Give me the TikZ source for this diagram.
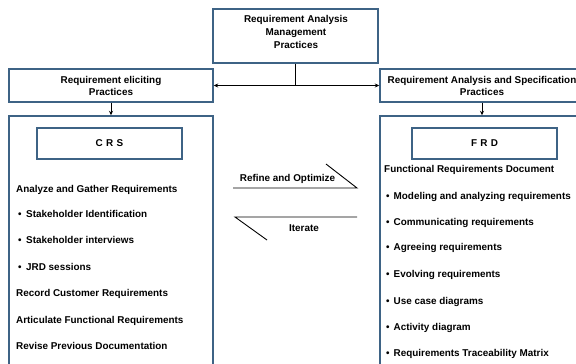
\documentclass[tikz,border=0pt]{standalone}
\usepackage{fontspec}
\setmainfont{Liberation Sans}
\usetikzlibrary{arrows.meta}
\definecolor{boxline}{HTML}{3E6385}
\begin{document}
\begin{tikzpicture}[x=1pt,y=-1pt,
  font=\fontsize{9.9}{12.5}\selectfont\bfseries,
  box/.style={draw=boxline,line width=1.4pt,fill=white,inner sep=0pt,align=center},
  item/.style={anchor=base west,inner sep=0pt},
  link/.style={draw=black,line width=0.8pt},
  tip/.style={-{Stealth[length=4.5pt,width=4pt]}}]
\useasboundingbox (0,0) rectangle (576,364);
\clip (0,0) rectangle (576,364);

% management practices
\node[box,minimum width=165pt,minimum height=54pt] (top) at (295.5,36) {};
\node[inner sep=0pt,align=center,font=\fontsize{9.9}{13}\selectfont\bfseries] (toptext) at (296,32)
  {Requirement Analysis\\Management\\Practices};

% section headers
\node[box,minimum width=204pt,minimum height=33pt] (lhead) at (111,85.5)
  {Requirement eliciting\\[-0.5pt]Practices};
\node[box,minimum width=204pt,minimum height=33pt] (rhead) at (482,85.5)
  {Requirement Analysis and Specification\\[-0.5pt]Practices};

% section bodies (open at the bottom)
\node[box,minimum width=204pt,minimum height=254pt] (lbody) at (111,243) {};
\node[box,minimum width=204pt,minimum height=254pt] (rbody) at (482,243) {};

\node[box,minimum width=145pt,minimum height=31pt] (crs) at (109.5,143.5) {C\,\,R\,\,S};
\node[box,minimum width=145pt,minimum height=31pt] (frd) at (484.5,143.5) {F\,\,R\,\,D};

% connectors
\coordinate (j) at (top.south |- lhead.east);
\draw[link] (top.south) -- (j);
\draw[link,tip] (j) -- (lhead.east);
\draw[link,tip] (j) -- (rhead.west);
\draw[link,tip] (lhead.south) -- (lbody.north);
\draw[link,tip] (rhead.south) -- (rbody.north);

% left list
\newcommand{\bl}[1]{\makebox[8pt][l]{\textbullet}#1}
\node[item] (l1) at (16,192.5) {Analyze and Gather Requirements};
\node[item] (l2) at (18,217.5) {\bl{Stakeholder Identification}};
\node[item] (l3) at (18,243.5) {\bl{Stakeholder interviews}};
\node[item] (l4) at (18,270.5) {\bl{JRD sessions}};
\node[item] (l5) at (16,296.5) {Record Customer Requirements};
\node[item] (l6) at (16,323.5) {Articulate Functional Requirements};
\node[item] (l7) at (16,349.5) {Revise Previous Documentation};

% right list
\newcommand{\br}[1]{\makebox[7.5pt][l]{\textbullet}#1}
\node[item] (r0) at (384,172.5) {Functional Requirements Document};
\node[item] (r1) at (386,199.5) {\br{Modeling and analyzing requirements}};
\node[item] (r2) at (386,225.5) {\br{Communicating requirements}};
\node[item] (r3) at (386,250.5) {\br{Agreeing requirements}};
\node[item] (r4) at (386,277.5) {\br{Evolving requirements}};
\node[item] (r5) at (386,304.5) {\br{Use case diagrams}};
\node[item] (r6) at (386,330.5) {\br{Activity diagram}};
\node[item] (r7) at (386,356.5) {\br{Requirements Traceability Matrix}};

% half-arrows between the two sections
\coordinate (ra) at (233,188);
\coordinate (rb) at (357,188);
\coordinate (rc) at (326,164);
\draw[link,line width=0.9pt] (ra) -- (rb) -- (rc);
\node[anchor=base,inner sep=0pt] (refine) at (287.5,181.5) {Refine and Optimize};

\coordinate (ia) at (357,217);
\coordinate (ib) at (235,217);
\coordinate (ic) at (267,240);
\draw[link,line width=0.9pt] (ia) -- (ib) -- (ic);
\node[anchor=base,inner sep=0pt] (iterate) at (304,231.5) {Iterate};
\end{tikzpicture}
\end{document}
